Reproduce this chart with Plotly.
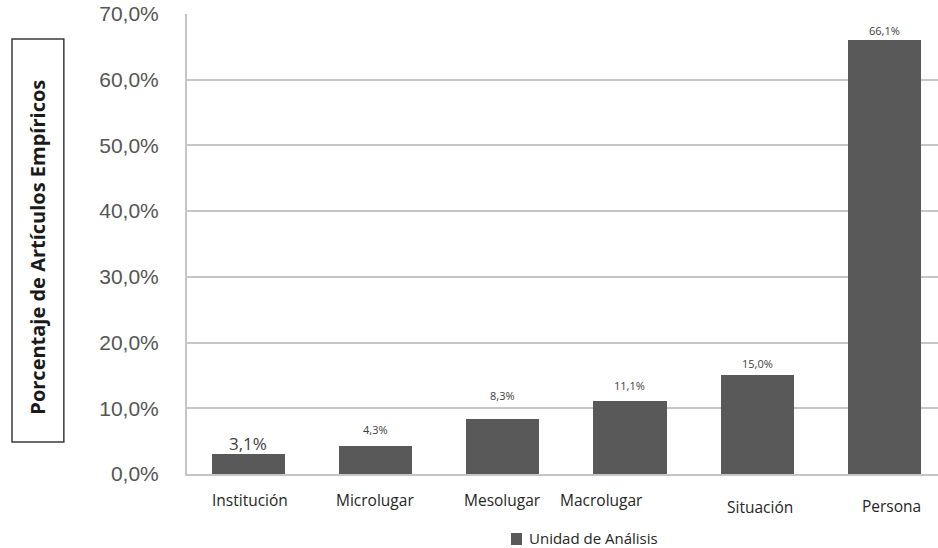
import plotly.graph_objects as go

# Data
categories = ["Institución", "Microlugar", "Mesolugar", "Macrolugar", "Situación", "Persona"]
values = [3.1, 4.3, 8.3, 11.1, 15.0, 66.1]
value_labels = ["3,1%", "4,3%", "8,3%", "11,1%", "15,0%", "66,1%"]
tick_vals = [0, 10, 20, 30, 40, 50, 60, 70]
tick_text = ["0,0%", "10,0%", "20,0%", "30,0%", "40,0%", "50,0%", "60,0%", "70,0%"]
series_name = "Unidad de Análisis"
y_title = "Porcentaje de Artículos Empíricos"

# Label placement tweaks (pixels)
value_gap = [10, 16, 24, 16, 12, 9]
value_size = [17, 11, 11, 11, 11, 11]
cat_dx = [2, 0, 0, -28, 3, 7]
cat_dy = [-26, -26, -26, -26, -33, -32]

BAR = "#595959"
GRID = "#c6c6c6"
positions = list(range(len(categories)))

fig = go.Figure()
fig.add_trace(go.Bar(
    x=positions, y=values, name=series_name,
    marker=dict(color=BAR, line=dict(width=0)),
    width=0.575, showlegend=False,
))

for i, (v, lab) in enumerate(zip(values, value_labels)):
    fig.add_annotation(
        x=positions[i], y=v, xref="x", yref="y", text=lab, showarrow=False,
        yanchor="middle", yshift=value_gap[i],
        font=dict(family="Open Sans", size=value_size[i], color="#404040"),
    )

for i, cat in enumerate(categories):
    fig.add_annotation(
        x=positions[i], y=0, xref="x", yref="paper", text=cat, showarrow=False,
        yanchor="middle", xshift=cat_dx[i], yshift=cat_dy[i],
        font=dict(family="Open Sans", size=15.5, color="#262626"),
    )

# Boxed vertical axis title
fig.add_shape(type="rect", xref="paper", yref="paper",
              x0=-0.233, x1=-0.164, y0=0.0696, y1=0.9457,
              line=dict(color="#3a3a3a", width=1.5), fillcolor="white")
fig.add_annotation(
    x=-0.1984, y=0.492, xref="paper", yref="paper", text=y_title,
    showarrow=False, textangle=-90, xanchor="center", yanchor="middle",
    font=dict(family="Open Sans", size=20, color="#1a1a1a", weight="bold"),
)

# Series key below the axis
fig.add_shape(type="rect", xref="paper", yref="paper",
              x0=0.4314, x1=0.4461, y0=-0.1543, y1=-0.1282,
              line=dict(width=0), fillcolor=BAR)
fig.add_annotation(
    x=0.4527, y=-0.1391, xref="paper", yref="paper", text=series_name,
    showarrow=False, xanchor="left", yanchor="middle",
    font=dict(family="Open Sans", size=15, color="#262626"),
)

fig.update_layout(
    width=938, height=548,
    margin=dict(l=187, r=0, t=14, b=74),
    paper_bgcolor="white", plot_bgcolor="white",
    bargap=0,
    showlegend=False,
    xaxis=dict(
        range=[-0.48, 5.42], showticklabels=False, showgrid=False,
        zeroline=False, showline=True, linecolor=GRID, linewidth=2,
        fixedrange=True,
    ),
    yaxis=dict(
        range=[0, 70], tickvals=tick_vals, ticktext=tick_text,
        showgrid=True, gridcolor=GRID, gridwidth=2,
        zeroline=False, showline=True, linecolor=GRID, linewidth=2,
        ticks="outside", ticklen=0, ticklabelstandoff=22,
        tickfont=dict(family="Liberation Sans", size=21, color="#555555"),
    ),
)

fig.write_html("out.html")
